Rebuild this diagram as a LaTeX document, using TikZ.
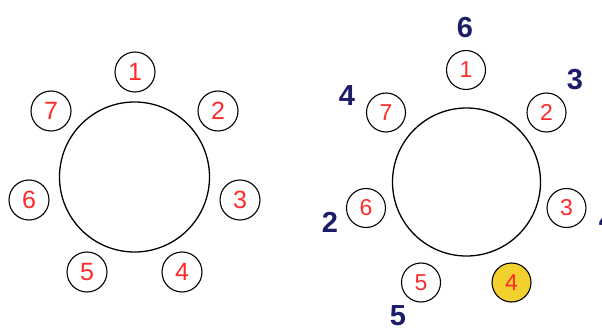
\documentclass[tikz,border=0pt]{standalone}
\usepackage{fontspec}
\setmainfont{Liberation Sans}
\definecolor{numred}{HTML}{FF2A2A}
\definecolor{navy}{HTML}{1C1C6B}
\definecolor{gold}{HTML}{F2D02E}
\begin{document}
\begin{tikzpicture}[x=1pt,y=-1pt,
  big/.style={circle,draw=black,line width=1.3pt,inner sep=0pt},
  seat/.style={circle,draw=black,line width=1.1pt,minimum size=40pt,inner sep=0pt,text=numred,font=\fontsize{25}{25}\selectfont},
  rseat/.style={seat,minimum size=39pt,font=\fontsize{23}{23}\selectfont},
  lbl/.style={text=navy,font=\fontsize{29}{29}\selectfont\bfseries,inner sep=0pt}]
\clip (0,0) rectangle (602,331);
% left table
\node[big,minimum size=150pt] (Lt) at (134.5,177) {};
\node[seat] (L1) at (135,72) {1};
\node[seat] (L2) at (218,111) {2};
\node[seat] (L3) at (240,200) {3};
\node[seat] (L4) at (182,272) {4};
\node[seat] (L5) at (87,272) {5};
\node[seat] (L6) at (29,200) {6};
\node[seat] (L7) at (51,111) {7};
% right table
\node[big,minimum size=148pt] (Rt) at (466.5,182) {};
\node[rseat] (R1) at (466,70) {1};
\node[rseat] (R2) at (546.5,112.5) {2};
\node[rseat] (R3) at (566.5,208) {3};
\node[rseat,fill=gold] (R4) at (511.5,282.5) {4};
\node[rseat] (R5) at (421,282.5) {5};
\node[rseat] (R6) at (366,208) {6};
\node[rseat] (R7) at (386,112.5) {7};
% labels
\node[lbl] (N6) at (465,28) {6};
\node[lbl] (N3) at (575,80) {3};
\node[lbl] (N4) at (347,96) {4};
\node[lbl] (N2) at (330,222) {2};
\node[lbl] (N5) at (398,316) {5};
\node[lbl] (N4b) at (607,220) {4};
\end{tikzpicture}
\end{document}
